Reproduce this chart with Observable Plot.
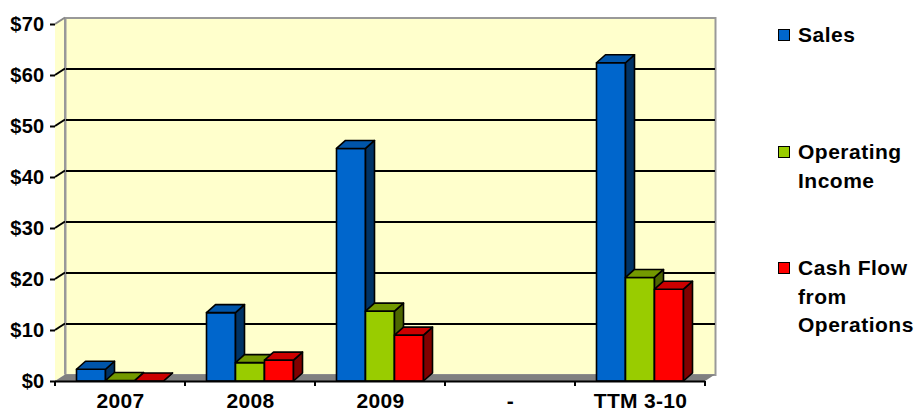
<!DOCTYPE html>
<html>
<head>
<meta charset="utf-8">
<script src="https://cdn.jsdelivr.net/npm/d3@7"></script>
<script src="https://cdn.jsdelivr.net/npm/@observablehq/plot@0.6"></script>
<style>
  html, body { margin: 0; padding: 0; background: #fff; }
  #wrap { position: relative; width: 919px; height: 415px; overflow: hidden; }
  #legend { position: absolute; left: 778px; top: 0; width: 141px;
    font-family: "Liberation Sans", Arial, sans-serif; font-weight: bold; font-size: 21px; color: #000; }
  .item { position: absolute; left: 0; display: flex; align-items: flex-start; }
  .sw { width: 10px; height: 10px; border: 1.5px solid #000; margin-top: 8px; margin-right: 8px; flex: none; }
  .lab { line-height: 28.5px; width: 130px; letter-spacing: 0.5px; }
</style>
</head>
<body>
<div id="wrap"><div id="legend"></div></div>
<script>
// ---- data ----
const categories = ["2007", "2008", "2009", "-", "TTM 3-10"];
const seriesNames = ["Sales", "Operating Income", "Cash Flow from Operations"];
const sales = [2.3, 13.4, 45.6, null, 62.4];
const operatingIncome = [0.1, 3.6, 13.7, null, 20.3];
const cashFlow = [0, 4.1, 9.0, null, 18.0];
const yTicks = [0, 10, 20, 30, 40, 50, 60, 70];

// ---- styles ----
const palette = [
  {front: "#0066CC", top: "#0055AA", side: "#003366"},
  {front: "#99CC00", top: "#739900", side: "#4D6600"},
  {front: "#FF0000", top: "#CC0000", side: "#800000"}
];
const DX = 10, DY = -6.5;      // 3D depth offset of the walls
const BDX = 9, BDY = -8;       // 3D depth offset of the bars
const BAR_W = 29;

const seriesValues = [sales, operatingIncome, cashFlow];
const tables = seriesValues.map((vals, j) =>
  categories.map((c, i) => ({category: c, series: seriesNames[j], value: vals[i]}))
    .filter(d => d.value != null)
);

function bw(s) { return typeof s.bandwidth === "function" ? s.bandwidth() : s.bandwidth; }

function bars3d(j) {
  const col = palette[j];
  return function(index, scales, values) {
    const g = d3.create("svg:g");
    const b = bw(scales.x);
    for (const i of index) {
      const x0 = values.x[i] + b / 2 - 1.5 * BAR_W + j * BAR_W;
      const x1 = x0 + BAR_W;
      const yb = values.y1[i], yt = values.y2[i];
      g.append("rect").attr("x", x0).attr("y", yt).attr("width", BAR_W).attr("height", Math.max(0, yb - yt))
        .attr("fill", col.front).attr("stroke", "#000").attr("stroke-width", 1.6).attr("stroke-linejoin", "round");
      g.append("polygon").attr("points", [[x1, yb], [x1 + BDX, yb + BDY], [x1 + BDX, yt + BDY], [x1, yt]].join(" "))
        .attr("fill", col.side).attr("stroke", "#000").attr("stroke-width", 1.6).attr("stroke-linejoin", "round");
      g.append("polygon").attr("points", [[x0, yt], [x0 + BDX, yt + BDY], [x1 + BDX, yt + BDY], [x1, yt]].join(" "))
        .attr("fill", col.top).attr("stroke", "#000").attr("stroke-width", 1.6).attr("stroke-linejoin", "round");
    }
    return g.node();
  };
}

function walls(index, scales, values, dim) {
  const g = d3.create("svg:g");
  const xl = dim.marginLeft, xr = dim.width - dim.marginRight;
  const yt = scales.y(yTicks[yTicks.length - 1]), yb = scales.y(0);
  g.append("polygon").attr("points", [[xl, yt], [xl + DX, yt + DY], [xl + DX, yb + DY], [xl, yb]].join(" "))
    .attr("fill", "#FFFFCC");
  g.append("line").attr("x1", xl + DX).attr("x2", xl + DX).attr("y1", yt + DY).attr("y2", yb + DY)
    .attr("stroke", "#999").attr("stroke-width", 2);
  g.append("line").attr("x1", xl).attr("x2", xl + DX).attr("y1", yt).attr("y2", yt + DY)
    .attr("stroke", "#888").attr("stroke-width", 2);
  for (const t of yTicks.slice(1, -1)) {
    const y = scales.y(t);
    g.append("line").attr("x1", xl).attr("x2", xl + DX).attr("y1", y).attr("y2", y + DY)
      .attr("stroke", "#000").attr("stroke-width", 2);
  }
  g.append("polygon").attr("points", [[xl, yb], [xl + DX, yb + DY], [xr + DX, yb + DY], [xr, yb]].join(" "))
    .attr("fill", "#808080");
  return g.node();
}

function xTicks(index, scales, values, dim) {
  const g = d3.create("svg:g");
  const b = bw(scales.x);
  const yb = scales.y(0);
  const edges = categories.map(c => scales.x(c)).concat([scales.x(categories[categories.length - 1]) + b]);
  for (const x of edges) {
    g.append("line").attr("x1", x).attr("x2", x).attr("y1", yb).attr("y2", yb + 5)
      .attr("stroke", "#000").attr("stroke-width", 2);
  }
  return g.node();
}

const chart = Plot.plot({
  width: 919,
  height: 415,
  marginLeft: 55,
  marginRight: 214,
  marginTop: 24,
  marginBottom: 34,
  style: {fontFamily: "'Liberation Sans', Arial, sans-serif", fontSize: "20px", fontWeight: "bold", color: "#000", background: "transparent", letterSpacing: "0.3px"},
  x: {domain: categories, padding: 0, tickSize: 0, tickPadding: 12, label: null},
  y: {domain: [0, 70], ticks: yTicks, tickFormat: d => "$" + d, tickSize: 5, tickPadding: 6, label: null, line: true},
  marks: [
    Plot.frame({fill: "#FFFFCC", stroke: "#999", strokeWidth: 2, dx: DX, dy: DY}),
    Plot.ruleY(yTicks.slice(1, -1), {dx: DX, dy: DY, stroke: "#000", strokeWidth: 2}),
    walls,
    ...tables.map((t, j) => Plot.barY(t, {x: "category", y: "value", render: bars3d(j)})),
    Plot.ruleY([0], {stroke: "#000", strokeWidth: 2}),
    xTicks
  ]
});
chart.style.position = "absolute";
chart.style.left = "0";
chart.style.top = "0";
chart.querySelectorAll("[aria-label='y-axis tick'], [aria-label='y-axis'] path, [aria-label='y-axis line']").forEach(e => { e.setAttribute("stroke-width", 2); });
chart.querySelectorAll("[aria-label='x-axis tick label'], [aria-label='x-axis']").forEach(e => { e.setAttribute("font-size", 21); e.style.fontSize = "21px"; });
document.getElementById("wrap").prepend(chart);

// ---- legend ----
const legendTops = [21, 138, 254];
const legend = document.getElementById("legend");
seriesNames.forEach((name, j) => {
  const it = document.createElement("div");
  it.className = "item";
  it.style.top = legendTops[j] + "px";
  const sw = document.createElement("div");
  sw.className = "sw";
  sw.style.background = palette[j].front;
  const lab = document.createElement("div");
  lab.className = "lab";
  lab.textContent = name;
  it.append(sw, lab);
  legend.append(it);
});
</script>
</body>
</html>
